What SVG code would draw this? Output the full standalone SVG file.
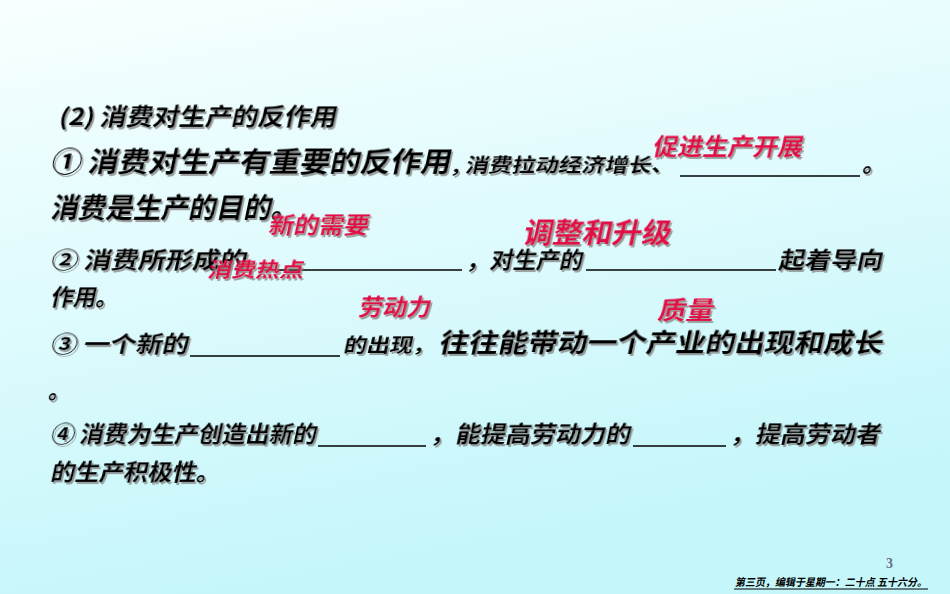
<svg xmlns="http://www.w3.org/2000/svg" width="950" height="594" viewBox="0 0 950 594">
<defs>
<linearGradient id="bg" x1="0" y1="0" x2="0.3" y2="1"><stop offset="0" stop-color="#f8ffff"/><stop offset="1" stop-color="#c4f6fa"/></linearGradient>
<filter id="sh" x="-5%" y="-20%" width="110%" height="140%"><feDropShadow dx="2" dy="2" stdDeviation="0.6" flood-color="#888" flood-opacity="0.8"/></filter>
</defs>
<style>
.t{font-family:"Noto Sans CJK SC","Noto Sans",sans-serif;font-weight:bold;fill:#000;filter:url(#sh)}
.r{font-family:"Noto Sans CJK SC",sans-serif;font-weight:bold;fill:#e0104a;filter:url(#sh)}
.u{stroke:#000;stroke-width:1.3}
</style>
<rect width="950" height="594" fill="url(#bg)"/>
<g id="text">
<text class="t" transform="translate(58,125) skewX(-12)" font-size="23" textLength="278" lengthAdjust="spacingAndGlyphs">(2) 消费对生产的反作用</text>
<text class="t" transform="translate(50,172) skewX(-12)" font-size="28" textLength="400" lengthAdjust="spacingAndGlyphs">① 消费对生产有重要的反作用</text>
<text class="t" transform="translate(452,172) skewX(-12)" font-size="19" textLength="222" lengthAdjust="spacingAndGlyphs">, 消费拉动经济增长、</text>
<line class="u" x1="680" y1="176" x2="860" y2="176"/>
<text class="t" transform="translate(862,172) skewX(-12)" font-size="24">。</text>
<text class="t" transform="translate(50,218) skewX(-12)" font-size="28" textLength="248" lengthAdjust="spacingAndGlyphs">消费是生产的目的。</text>
<text class="t" transform="translate(50,268) skewX(-12)" font-size="22" textLength="196" lengthAdjust="spacingAndGlyphs">② 消费所形成的</text>
<line class="u" x1="260" y1="270" x2="462" y2="270"/>
<text class="t" transform="translate(466,268) skewX(-12)" font-size="22" textLength="116" lengthAdjust="spacingAndGlyphs">，对生产的</text>
<line class="u" x1="586" y1="270" x2="776" y2="270"/>
<text class="t" transform="translate(778,268) skewX(-12)" font-size="22" textLength="104" lengthAdjust="spacingAndGlyphs">起着导向</text>
<text class="t" transform="translate(50,305) skewX(-12)" font-size="22" textLength="68" lengthAdjust="spacingAndGlyphs">作用。</text>
<text class="t" transform="translate(50,352) skewX(-12)" font-size="22" textLength="138" lengthAdjust="spacingAndGlyphs">③ 一个新的</text>
<line class="u" x1="190" y1="356" x2="340" y2="356"/>
<text class="t" transform="translate(343,352) skewX(-12)" font-size="19" textLength="92" lengthAdjust="spacingAndGlyphs">的出现，</text>
<text class="t" transform="translate(438,352) skewX(-12)" font-size="26" textLength="444" lengthAdjust="spacingAndGlyphs">往往能带动一个产业的出现和成长</text>
<text class="t" transform="translate(48,398) skewX(-12)" font-size="22">。</text>
<text class="t" transform="translate(50,442) skewX(-12)" font-size="22" textLength="266" lengthAdjust="spacingAndGlyphs">④ 消费为生产创造出新的</text>
<line class="u" x1="318" y1="446" x2="426" y2="446"/>
<text class="t" transform="translate(430,442) skewX(-12)" font-size="22" textLength="200" lengthAdjust="spacingAndGlyphs">，能提高劳动力的</text>
<line class="u" x1="633" y1="446" x2="726" y2="446"/>
<text class="t" transform="translate(730,442) skewX(-12)" font-size="22" textLength="150" lengthAdjust="spacingAndGlyphs">，提高劳动者</text>
<text class="t" transform="translate(50,480) skewX(-12)" font-size="22" textLength="170" lengthAdjust="spacingAndGlyphs">的生产积极性。</text>
</g>
<g id="answers">
<text class="r" transform="translate(652,155) skewX(-12)" font-size="23" textLength="150" lengthAdjust="spacingAndGlyphs">促进生产开展</text>
<text class="r" transform="translate(268,233) skewX(-12)" font-size="22" textLength="100" lengthAdjust="spacingAndGlyphs">新的需要</text>
<text class="r" transform="translate(522,243) skewX(-12)" font-size="28" textLength="148" lengthAdjust="spacingAndGlyphs">调整和升级</text>
<text class="r" transform="translate(207,277) skewX(-12)" font-size="20" textLength="96" lengthAdjust="spacingAndGlyphs">消费热点</text>
<text class="r" transform="translate(358,315) skewX(-12)" font-size="22" textLength="72" lengthAdjust="spacingAndGlyphs">劳动力</text>
<text class="r" transform="translate(657,319) skewX(-12)" font-size="24" textLength="56" lengthAdjust="spacingAndGlyphs">质量</text>
</g>
<g id="footer">
<text x="886" y="568" font-family="Liberation Serif,serif" font-weight="bold" font-size="14" fill="#66708a">3</text>
<text transform="translate(735,586) skewX(-12)" font-family="Noto Sans CJK SC,sans-serif" font-weight="bold" font-size="10.5" textLength="192" lengthAdjust="spacingAndGlyphs">第三页，编辑于星期一：二十点 五十六分。</text>
<line x1="734" y1="589" x2="928" y2="589" stroke="#000" stroke-width="1"/>
</g>
</svg>
